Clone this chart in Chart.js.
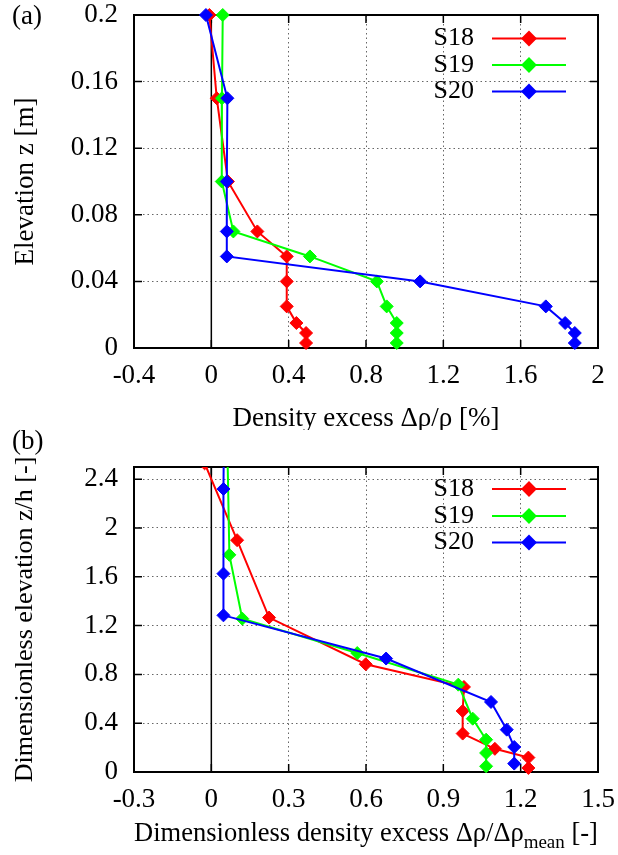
<!DOCTYPE html>
<html><head><meta charset="utf-8">
<script src="https://cdn.jsdelivr.net/npm/chart.js@4.4.1/dist/chart.umd.min.js"></script>
<style>
html,body{margin:0;padding:0;background:#fff;}
#wrap{position:relative;width:618px;height:855px;overflow:hidden;}
#pa{position:absolute;left:0;top:0;width:618px;height:430px;}
#pb{position:absolute;left:0;top:418px;width:618px;height:437px;}
</style></head><body>
<div id="wrap">
<div id="pa"><canvas id="ca" width="618" height="430"></canvas></div>
<div id="pb"><canvas id="cb" width="618" height="437"></canvas></div>
</div>
<script>
// ---------- data ----------
const seriesNames = ['S18', 'S19', 'S20'];
const seriesColors = ['#ff0000', '#00ff00', '#0000ff'];

// Panel (a): elevation z [m] vs density excess [%]
const elevationA = [0.2, 0.15, 0.1, 0.07, 0.055, 0.04, 0.025, 0.015, 0.009, 0.003];
const s18A = [-0.01, 0.028, 0.086, 0.238, 0.39, 0.39, 0.39, 0.44, 0.49, 0.49];
const s19A = [0.059, 0.055, 0.054, 0.114, 0.51, 0.856, 0.907, 0.959, 0.959, 0.959];
const s20A = [-0.028, 0.083, 0.08, 0.08, 0.08, 1.08, 1.73, 1.83, 1.88, 1.88];

// Panel (b): dimensionless elevation z/h vs dimensionless density excess
const s18Bx = [-0.026, 0.10, 0.224, 0.599, 0.98, 0.975, 0.975, 1.10, 1.23, 1.23];
const s18Bz = [2.53, 1.90, 1.266, 0.883, 0.697, 0.50, 0.315, 0.19, 0.118, 0.033];
const s19Bx = [0.066, 0.062, 0.07, 0.12, 0.566, 0.958, 1.014, 1.066, 1.066, 1.066];
const s19Bz = [3.57, 2.68, 1.78, 1.257, 0.975, 0.716, 0.437, 0.265, 0.156, 0.047];
const s20Bx = [-0.018, 0.052, 0.047, 0.047, 0.047, 0.678, 1.085, 1.146, 1.175, 1.175];
const s20Bz = [4.65, 3.49, 2.32, 1.626, 1.284, 0.93, 0.574, 0.347, 0.205, 0.069];

// tick labels
const xTicksA = [-0.4, 0, 0.4, 0.8, 1.2, 1.6, 2];
const yTicksA = [0, 0.04, 0.08, 0.12, 0.16, 0.2];
const xTicksB = [-0.3, 0, 0.3, 0.6, 0.9, 1.2, 1.5];
const yTicksB = [0, 0.4, 0.8, 1.2, 1.6, 2, 2.4];

// ---------- styling ----------
const FAMILY = '"Liberation Serif", "Times New Roman", serif';
const FS = 27;
const LEG_FS = 26;
const tickFont = {family: FAMILY, size: FS, lineHeight: 1.1};

function dataset(i, xs, zs, clip) {
  return {
    label: seriesNames[i],
    data: xs.map((v, k) => ({x: v, y: zs[k]})),
    borderColor: seriesColors[i],
    backgroundColor: seriesColors[i],
    pointBackgroundColor: seriesColors[i],
    pointBorderColor: seriesColors[i],
    pointStyle: 'rectRot',
    pointRadius: 6.5,
    pointHoverRadius: 6.5,
    pointBorderWidth: 1,
    borderWidth: 2,
    showLine: true,
    tension: 0,
    order: 3 - i,
    clip: clip
  };
}

function gridColor(edges) {
  return c => {
    if (!c.tick) return 'rgba(0,0,0,0)';
    const v = c.tick.value;
    return edges.some(e => Math.abs(e - v) < 1e-9) ? 'rgba(0,0,0,0)' : '#666';
  };
}

const framePlugin = {
  id: 'frame',
  beforeDatasetsDraw(chart, args, o) {
    const {ctx, chartArea: a, scales: {x, y}} = chart;
    ctx.save();
    const x0 = x.getPixelForValue(0);
    ctx.strokeStyle = '#000';
    ctx.lineWidth = 1.5;
    ctx.beginPath(); ctx.moveTo(x0, a.top); ctx.lineTo(x0, a.bottom); ctx.stroke();
    ctx.lineWidth = 2;
    ctx.strokeRect(a.left, a.top, a.right - a.left, a.bottom - a.top);
    ctx.lineWidth = 1.5;
    const L = 8;
    ctx.beginPath();
    x.ticks.forEach(t => {
      const p = x.getPixelForValue(t.value);
      ctx.moveTo(p, a.bottom); ctx.lineTo(p, a.bottom - L);
      ctx.moveTo(p, a.top); ctx.lineTo(p, a.top + L);
    });
    y.ticks.forEach(t => {
      const p = y.getPixelForValue(t.value);
      ctx.moveTo(a.left, p); ctx.lineTo(a.left + L, p);
      ctx.moveTo(a.right, p); ctx.lineTo(a.right - L, p);
    });
    ctx.stroke();
    ctx.restore();
  },
  afterDraw(chart, args, o) {
    const {ctx, chartArea: a} = chart;
    ctx.save();
    ctx.fillStyle = '#000';
    ctx.font = FS + 'px ' + FAMILY;
    ctx.textAlign = 'left'; ctx.textBaseline = 'middle';
    ctx.fillText(o.panel, o.panelX, o.panelY);
    ctx.font = LEG_FS + 'px ' + FAMILY;
    chart.data.datasets.forEach((d, i) => {
      const yy = o.legendY[i];
      ctx.textAlign = 'right'; ctx.textBaseline = 'middle';
      ctx.fillStyle = '#000';
      ctx.fillText(d.label, o.legendTextX, yy);
      ctx.strokeStyle = d.borderColor; ctx.lineWidth = 2;
      ctx.beginPath(); ctx.moveTo(o.legendLine[0], yy); ctx.lineTo(o.legendLine[1], yy); ctx.stroke();
      ctx.fillStyle = d.borderColor;
      Chart.helpers.drawPoint(ctx, {pointStyle: 'rectRot', radius: 6.5, borderWidth: 1}, (o.legendLine[0] + o.legendLine[1]) / 2, yy);
    });
    ctx.fillStyle = '#000';
    ctx.textAlign = 'left'; ctx.textBaseline = 'alphabetic';
    const cx = (a.left + a.right) / 2;
    const big = o.titleSize + 'px ' + FAMILY, small = Math.round(o.titleSize * 0.72) + 'px ' + FAMILY;
    const parts = o.xTitle;
    let total = 0;
    parts.forEach(p => { ctx.font = p.sub ? small : big; total += ctx.measureText(p.t).width; });
    let xx = cx - total / 2;
    parts.forEach(p => {
      ctx.font = p.sub ? small : big;
      ctx.fillText(p.t, xx, o.xTitleBase + (p.sub ? 7 : 0));
      xx += ctx.measureText(p.t).width;
    });
    ctx.restore();
  }
};

function scales(xmin, xmax, xt, ymin, ymax, yt, xHeight, yTitle, titleSize) {
  return {
    x: {
      type: 'linear', min: xmin, max: xmax,
      afterBuildTicks: s => { s.ticks = xt.map(v => ({value: v})); },
      afterFit: s => { s.height = xHeight; s.paddingLeft = 0; s.paddingRight = 0; s.paddingTop = 0; s.paddingBottom = 0; },
      ticks: {font: tickFont, color: '#000', padding: 13, maxRotation: 0, autoSkip: false, callback: v => String(v)},
      grid: {drawTicks: false, color: gridColor([xmin, xmax, 0]), lineWidth: 1},
      border: {display: false, dash: [1.5, 3]},
      title: {display: false}
    },
    y: {
      type: 'linear', min: ymin, max: ymax,
      afterBuildTicks: s => { s.ticks = yt.map(v => ({value: v})); },
      afterFit: s => { s.width = 134; s.paddingLeft = 0; s.paddingRight = 0; s.paddingTop = 0; s.paddingBottom = 0; },
      ticks: {font: tickFont, color: '#000', padding: 16, autoSkip: false, callback: v => String(v)},
      grid: {drawTicks: false, color: gridColor([ymin, ymax]), lineWidth: 1},
      border: {display: false, dash: [1.5, 3]},
      title: {display: true, text: yTitle, font: {family: FAMILY, size: titleSize}, color: '#000', padding: {top: 10, bottom: 0}}
    }
  };
}

const common = {
  responsive: false,
  animation: false,
  events: [],
};

new Chart(document.getElementById('ca'), {
  type: 'scatter',
  data: {datasets: [
    dataset(0, s18A, elevationA, false),
    dataset(1, s19A, elevationA, false),
    dataset(2, s20A, elevationA, false)
  ]},
  options: Object.assign({}, common, {
    layout: {autoPadding: false, padding: {top: 15, right: 20, bottom: 0, left: 0}},
    scales: scales(-0.4, 2, xTicksA, 0, 0.2, yTicksA, 82, 'Elevation z [m]', 27),
    plugins: {
      legend: {display: false}, tooltip: {enabled: false},
      frame: {panel: '(a)', panelX: 12, panelY: 17, titleSize: 27,
        legendTextX: 474, legendLine: [492, 566], legendY: [38.5, 65, 91.5],
        xTitle: [{t: 'Density excess Δρ/ρ [%]'}], xTitleBase: 426}
    }
  }),
  plugins: [framePlugin]
});

new Chart(document.getElementById('cb'), {
  type: 'scatter',
  data: {datasets: [
    dataset(0, s18Bx, s18Bz, {left: 0, top: 0, right: 10, bottom: 10}),
    dataset(1, s19Bx, s19Bz, {left: 0, top: 0, right: 10, bottom: 10}),
    dataset(2, s20Bx, s20Bz, {left: 0, top: 0, right: 10, bottom: 10})
  ]},
  options: Object.assign({}, common, {
    layout: {autoPadding: false, padding: {top: 49, right: 20, bottom: 0, left: 0}},
    scales: scales(-0.3, 1.5, xTicksB, 0, 2.5, yTicksB, 83, 'Dimensionless elevation z/h [-]', 26),
    plugins: {
      legend: {display: false}, tooltip: {enabled: false},
      frame: {panel: '(b)', panelX: 12, panelY: 24, titleSize: 26.5,
        legendTextX: 474, legendLine: [492, 566], legendY: [71, 98, 124.5],
        xTitle: [{t: 'Dimensionless density excess Δρ/Δρ'}, {t: 'mean', sub: true}, {t: ' [-]'}], xTitleBase: 423}
    }
  }),
  plugins: [framePlugin]
});
</script>
</body></html>
